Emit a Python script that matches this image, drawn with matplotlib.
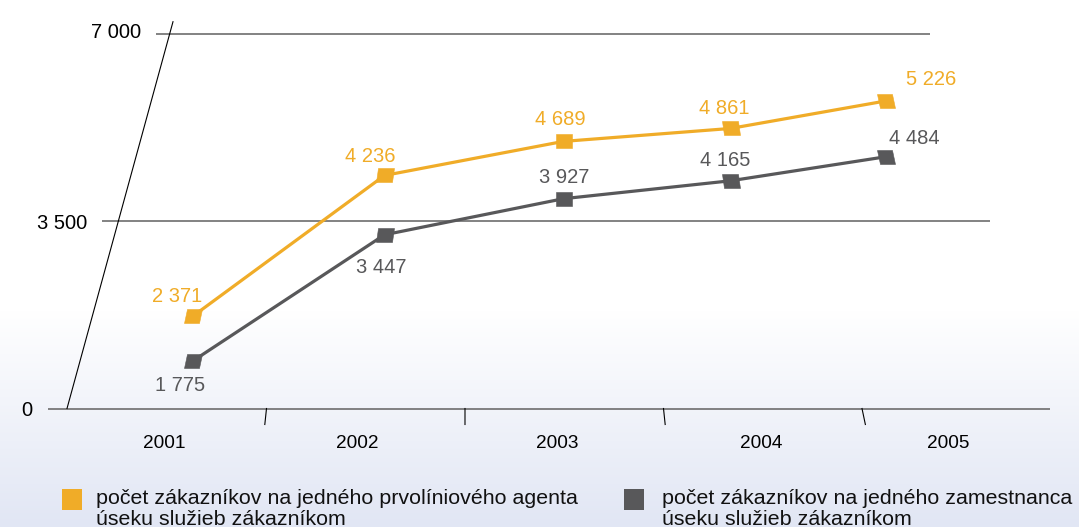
import numpy as np
import matplotlib
matplotlib.use('Agg')
import matplotlib.pyplot as plt
from matplotlib.markers import MarkerStyle
from matplotlib.transforms import Affine2D
from matplotlib.patches import Rectangle

# ---------------- data ----------------
years = ['2001', '2002', '2003', '2004', '2005']
agent_values = [2371, 4236, 4689, 4861, 5226]
employee_values = [1775, 3447, 3927, 4165, 4484]
y_ticks = [0, 3500, 7000]
y_tick_labels = ['0', '3 500', '7 000']
legend_labels = [
    'počet zákazníkov na jedného prvolíniového agenta\núseku služieb zákazníkom',
    'počet zákazníkov na jedného zamestnanca\núseku služieb zákazníkom',
]

# ---------------- style ----------------
ORANGE = '#F0AC28'
GRAY = '#58585A'
GRID = '#6d6d6d'
FONT = 'Liberation Sans'
plt.rcParams['font.family'] = [FONT, 'DejaVu Sans']

W, H, DPI = 1079, 527, 100
fig = plt.figure(figsize=(W / DPI, H / DPI), dpi=DPI)


def fx(px):
    return px / W


def fy(py):
    return 1 - py / H


# background gradient (white -> light blue-grey at the bottom)
bg = fig.add_axes([0, 0, 1, 1], zorder=0)
bg.set_axis_off()
rows = np.arange(H)
t = np.clip((rows - 310) / (H - 310), 0, 1)[:, None]
top_c = np.array([1.0, 1.0, 1.0])
bot_c = np.array([225, 230, 244]) / 255
grad = top_c[None, :] * (1 - t) + bot_c[None, :] * t
bg.imshow(grad[:, None, :], aspect='auto', extent=[0, 1, 0, 1], origin='upper')

# ---------------- "back wall" axes: grid lines & value axis ----------------
gy0 = 408.5
gscale = (408.5 - 33.7) / 7000.0


def px2val(py):
    return (gy0 - py) / gscale


gax = fig.add_axes([0, 0, 1, 1], zorder=1)
gax.set_axis_off()
gax.patch.set_alpha(0)
gax.set_xlim(0, W)
gax.set_ylim(px2val(H), px2val(0))

grid_left = [48, 102, 156]
grid_right = [1050, 990, 930]
label_right = [32, 87, 141]
for v, xl, xr, lx, lab in zip(y_ticks, grid_left, grid_right, label_right, y_tick_labels):
    gax.plot([xl, xr], [v, v], color=GRID, lw=1.2, solid_capstyle='butt')
    gax.text(lx, v + (60 if v == 7000 else 0), lab, ha='right', va='center_baseline',
             fontsize=14.5, color='black')

# slanted value axis
gax.plot([67, 173], [0, px2val(21.7)], color='black', lw=0.8)

# bottom category separators (slightly slanted, perspective)
edges = [68 + 198.5 * k for k in range(1, 5)]
for x in edges:
    gax.plot([x, x + (x - 466) * 0.0085], [0, px2val(408.5 + 16)], color='black', lw=0.8)

# category labels on the floor
year_x = [164, 357, 557, 761, 948]
for x, y in zip(year_x, years):
    gax.text(x, px2val(442), y, ha='center', va='center_baseline', fontsize=13.7, color='black')

# ---------------- data axes (perspective-ish scale) ----------------
A, B = 197.0, 6.0


def fwd(i):
    i = np.asarray(i, dtype=float)
    return A * i - B * i ** 2


def inv(f):
    f = np.asarray(f, dtype=float)
    return (A - np.sqrt(np.clip(A * A - 4 * B * f, 0, None))) / (2 * B)


dax = fig.add_axes([0, 0, 1, 1], zorder=2)
dax.set_axis_off()
dax.patch.set_alpha(0)
dax.set_xscale('function', functions=(fwd, inv))
x_first = 193.5
dax.set_xlim(float(inv(-x_first)), float(inv(W - x_first)))
a_px, b_px = 494.0, 0.0752
dax.set_ylim((a_px - H) / b_px, a_px / b_px)

idx = np.arange(len(years))

agent_offsets = [(-16, -21), (-14.5, -20.5), (-3, -24), (-6, -22), (46, -24)]
employee_offsets = [(-13, 23), (-3, 31), (1, -23), (-5, -22), (29, -20)]


def fmt(v):
    return f'{v:,}'.replace(',', ' ')


for values, color, offs in [(agent_values, ORANGE, agent_offsets),
                            (employee_values, GRAY, employee_offsets)]:
    dax.plot(idx, values, color=color, lw=2.3, zorder=3, solid_capstyle='butt')
    for i, v in enumerate(values):
        k = 0.11 * (2 - i)
        ms = MarkerStyle('s', transform=Affine2D().scale(1.1, 1.0).skew(np.arctan(k), 0))
        dax.plot([i], [v], marker=ms, markersize=10.3, color=color, mec=color, mew=0.4,
                 ls='none', zorder=4)
    for i, (v, (dx, dy)) in enumerate(zip(values, offs)):
        dax.annotate(fmt(v), (i, v), xytext=(dx, -dy), textcoords='offset pixels',
                     ha='center', va='center_baseline', fontsize=14.5, color=color, zorder=5)

# ---------------- legend ----------------
leg_items = [(62, 96, ORANGE, legend_labels[0]), (624, 662, GRAY, legend_labels[1])]
line_baselines = [504, 525]
for sx, tx, color, lab in leg_items:
    fig.patches.append(Rectangle((fx(sx), fy(510)), 20 / W, 21 / H, transform=fig.transFigure,
                                 facecolor=color, edgecolor='none', zorder=5))
    for line, by in zip(lab.split('\n'), line_baselines):
        fig.text(fx(tx), fy(by), line, ha='left', va='baseline', fontsize=15.4,
                 color='#111111', zorder=6)

fig.savefig('out.png', dpi=DPI)
